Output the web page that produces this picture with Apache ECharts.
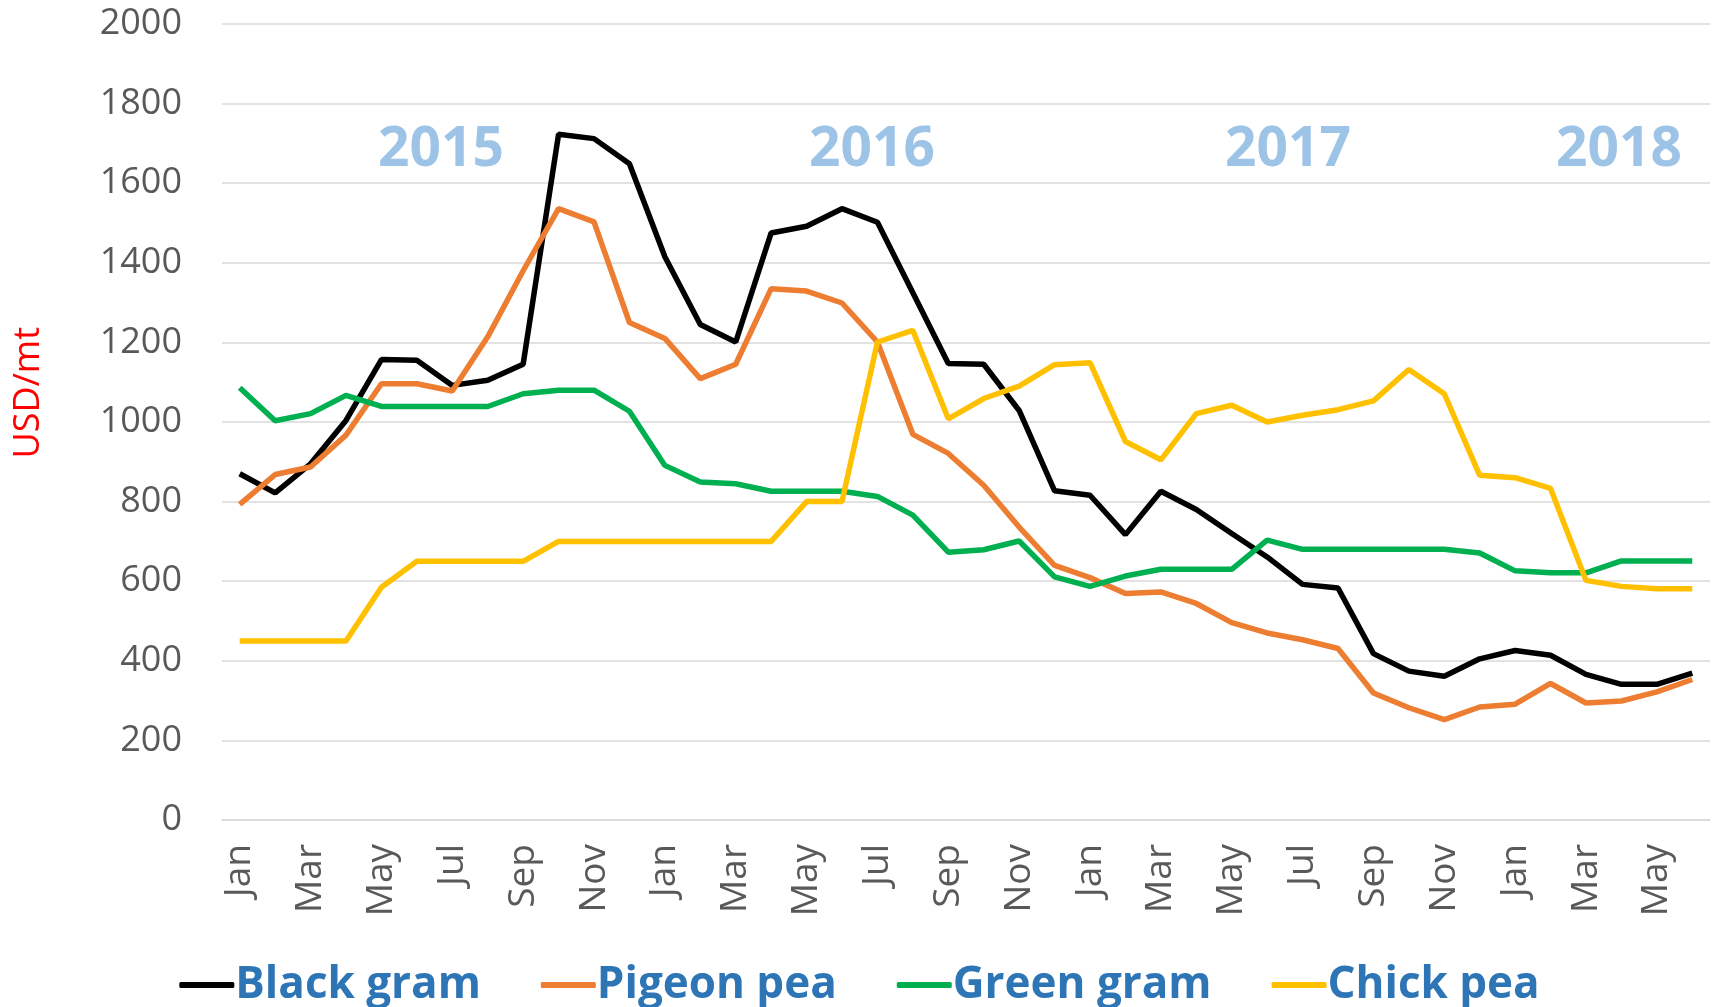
<!DOCTYPE html>
<html>
<head>
<meta charset="utf-8">
<script src="https://cdn.jsdelivr.net/npm/echarts@6/dist/echarts.min.js"></script>
<style>
  html, body { margin: 0; padding: 0; background: #fff; }
  #chart { width: 1719px; height: 1007px; }
</style>
</head>
<body>
<div id="chart"></div>
<script>
// monthly, Jan 2015 .. Jun 2018
var months = [
  'Jan', 'Feb', 'Mar', 'Apr', 'May', 'Jun', 'Jul', 'Aug', 'Sep', 'Oct', 'Nov', 'Dec',
  'Jan', 'Feb', 'Mar', 'Apr', 'May', 'Jun', 'Jul', 'Aug', 'Sep', 'Oct', 'Nov', 'Dec',
  'Jan', 'Feb', 'Mar', 'Apr', 'May', 'Jun', 'Jul', 'Aug', 'Sep', 'Oct', 'Nov', 'Dec',
  'Jan', 'Feb', 'Mar', 'Apr', 'May', 'Jun'
]
var blackGram = [870, 822, 895, 1004, 1157, 1155, 1092, 1105, 1145, 1723, 1712, 1649, 1415, 1245, 1201, 1475, 1492, 1536, 1502, 1325, 1147, 1145, 1029, 827, 816, 717, 826, 780, 720, 661, 592, 583, 418, 374, 361, 405, 426, 414, 366, 341, 341, 369]
var pigeonPea = [793, 868, 887, 967, 1096, 1096, 1078, 1214, 1380, 1536, 1503, 1250, 1210, 1109, 1145, 1335, 1329, 1299, 1201, 969, 921, 841, 736, 640, 609, 569, 573, 544, 496, 470, 453, 431, 319, 282, 252, 284, 291, 343, 294, 299, 322, 353]
var greenGram = [1086, 1003, 1021, 1067, 1039, 1039, 1039, 1039, 1071, 1080, 1080, 1027, 891, 849, 845, 826, 826, 826, 813, 766, 673, 679, 701, 611, 587, 613, 630, 630, 630, 703, 680, 680, 680, 680, 680, 671, 626, 621, 621, 651, 651, 651]
var chickPea = [450, 450, 450, 450, 585, 650, 650, 650, 650, 700, 700, 700, 700, 700, 700, 700, 800, 800, 1201, 1230, 1008, 1059, 1090, 1144, 1149, 951, 905, 1021, 1042, 1000, 1017, 1031, 1053, 1132, 1071, 866, 860, 833, 602, 587, 581, 581]
var yearLabels = ['2015', '2016', '2017', '2018']

var font = '"Open Sans", "Liberation Sans", sans-serif'
var colors = ['#000000', '#ED7D31', '#00B050', '#FFC000']
var names = ['Black gram', 'Pigeon pea', 'Green gram', 'Chick pea']
var values = [blackGram, pigeonPea, greenGram, chickPea]

var chart = echarts.init(document.getElementById('chart'))

var yearX = [441, 872, 1288, 1619]

var option = {
  animation: false,
  backgroundColor: '#ffffff',
  grid: { left: 222, right: 9, top: 24, bottom: 187 },
  legend: {
    data: names.map(function (n) { return { name: n, icon: 'roundRect' } }),
    left: 'center',
    top: 958,
    itemWidth: 55,
    itemHeight: 6,
    itemGap: 60,
    textStyle: { color: '#2E75B6', fontSize: 44, fontWeight: 'bold', fontFamily: font, padding: [0, 0, 0, -4] }
  },
  xAxis: {
    type: 'category',
    data: months,
    boundaryGap: true,
    axisLine: { lineStyle: { color: '#D9D9D9', width: 1.5 } },
    axisTick: { show: false },
    axisLabel: {
      interval: 1,
      rotate: 90,
      margin: 24,
      color: '#595959',
      fontSize: 37,
      fontFamily: font
    }
  },
  yAxis: {
    type: 'value',
    min: 0,
    max: 2000,
    interval: 200,
    axisLine: { show: false },
    axisTick: { show: false },
    splitLine: { lineStyle: { color: '#D9D9D9', width: 1.5 } },
    axisLabel: {
      margin: 40,
      color: '#595959',
      fontSize: 36,
      fontFamily: font,
      formatter: function (v) { return String(v) }
    }
  },
  graphic: [
    {
      type: 'text',
      left: 11,
      top: 327,
      rotation: Math.PI / 2,
      style: { text: 'USD/mt', fill: '#FF0000', fontSize: 36, fontFamily: font }
    }
  ].concat(yearLabels.map(function (y, i) {
    return {
      type: 'text',
      x: yearX[i],
      y: 150,
      style: {
        text: y,
        fill: '#9DC3E6',
        fontSize: 55,
        fontWeight: 'bold',
        fontFamily: font,
        align: 'center',
        verticalAlign: 'middle'
      }
    }
  })),
  series: names.map(function (n, i) {
    return {
      name: n,
      type: 'line',
      data: values[i],
      symbol: 'none',
      color: colors[i],
      lineStyle: { width: 5.5, color: colors[i] }
    }
  })
}

chart.setOption(option)
</script>
</body>
</html>
